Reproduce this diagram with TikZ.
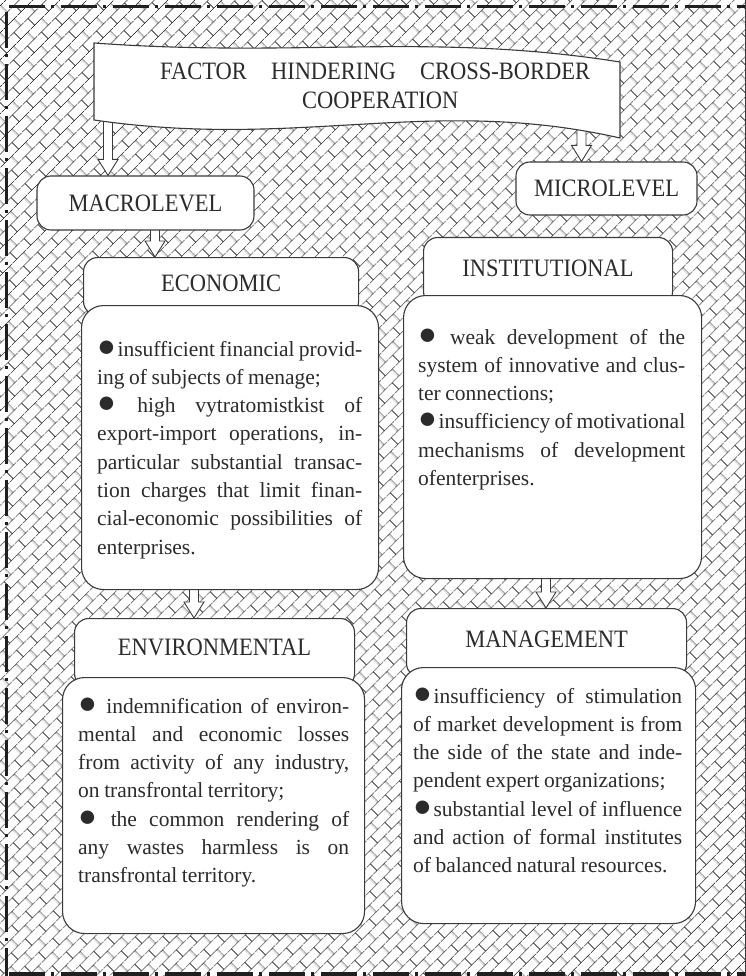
\documentclass[tikz,border=0pt]{standalone}
\usepackage{fontspec}
\setmainfont[WordSpace=0.85]{Liberation Serif}
\newfontfamily\headfont[FakeStretch=0.9]{Liberation Serif}
\usetikzlibrary{patterns.meta,calc}

\definecolor{ink}{HTML}{2B2B2B}
\definecolor{edge}{HTML}{3A3A3A}
\definecolor{hatch}{HTML}{2E2E2E}

\pgfdeclarelayer{backdrop}
\pgfdeclarelayer{links}
\pgfsetlayers{backdrop,links,main}

% diagonal brick hatching
\tikzdeclarepattern{
  name=diagbricks,
  type=uncolored,
  bounding box={(0pt,0pt) and (20pt,20pt)},
  tile size={(20pt,20pt)},
  tile transformation={rotate=45},
  code={
    \pgfsetlinewidth{0.75pt}
    \pgfpathmoveto{\pgfqpoint{0pt}{5pt}}\pgfpathlineto{\pgfqpoint{20pt}{5pt}}
    \pgfpathmoveto{\pgfqpoint{0pt}{15pt}}\pgfpathlineto{\pgfqpoint{20pt}{15pt}}
    \pgfpathmoveto{\pgfqpoint{5pt}{5pt}}\pgfpathlineto{\pgfqpoint{5pt}{15pt}}
    \pgfpathmoveto{\pgfqpoint{15pt}{15pt}}\pgfpathlineto{\pgfqpoint{15pt}{20pt}}
    \pgfpathmoveto{\pgfqpoint{15pt}{0pt}}\pgfpathlineto{\pgfqpoint{15pt}{5pt}}
    \pgfusepath{stroke}
  }
}

% bullet sign of the lists
\newcommand\blt{\scalebox{1.45}{●}\kern1.5pt}

% justified, left-aligned and centred lines of a text block
\newcommand\jline[1]{\makebox[\hsize][s]{#1}\par}
\newcommand\lline[1]{\makebox[\hsize][l]{#1}\par}
\newcommand\cenline[1]{\makebox[\hsize][c]{#1}\par}
\newcommand\textblock[2]{\vtop{\hsize=#1\parindent=0pt\parskip=0pt\baselineskip=28.3pt\lineskiplimit=-40pt\lineskip=0pt #2}}

% hollow block arrow from #1 down to its tip #2
\newcommand\barrow[2]{%
  \draw[flowarrow] ($(#1)+(-4.5pt,0pt)$) -- ($(#2)+(-4.5pt,16pt)$) -- ($(#2)+(-10pt,16pt)$)
    -- (#2) -- ($(#2)+(10pt,16pt)$) -- ($(#2)+(4.5pt,16pt)$) -- ($(#1)+(4.5pt,0pt)$) -- cycle;}

\begin{document}
\begin{tikzpicture}[x=1pt,y=-1pt,
  boxline/.style={draw=edge, line width=1.1pt, fill=white},
  hdrbox/.style={boxline, rounded corners=14pt, inner sep=0pt},
  bodybox/.style={boxline, rounded corners=22pt, inner sep=0pt, anchor=north west},
  htext/.style={text=ink, font=\headfont\fontsize{25}{30}\selectfont, inner sep=0pt},
  btext/.style={text=ink, font=\fontsize{21.5}{28.3}\selectfont, inner sep=0pt, anchor=base west},
  flowarrow/.style={draw=edge, line width=0.9pt, fill=white, line join=miter},
  framestroke/.style={line width=3.2pt, draw=black!88, dash pattern=on 36pt off 6pt on 3pt off 7pt}
]
\useasboundingbox (0,0) rectangle (746,976);

\begin{pgfonlayer}{backdrop}
  \fill[white] (0,0) rectangle (746,976);
  \fill[pattern=diagbricks, pattern color=hatch] (0,0) rectangle (746,976);
\end{pgfonlayer}

% frame
\draw[framestroke] (9,6.7) -- (746,6.7);
\draw[framestroke] (6.7,12) -- (6.7,976);
\draw[framestroke] (9,974) -- (746,974);
\draw[edge, line width=0.8pt] (745.3,0) -- (745.3,976);

% title banner
\draw[boxline] (94,43) .. controls (300,58) and (430,32) .. (620,62) -- (620,138)
  .. controls (430,95) and (300,150) .. (94,120) -- cycle;
\node[htext, anchor=base west] (title) at (160,80)
  {\textblock{430pt}{\jline{FACTOR HINDERING CROSS-BORDER}\cenline{\hspace{10pt}COOPERATION}}};

% levels
\node[hdrbox, htext, minimum width=217pt, minimum height=54pt] (macro) at (145.5,203) {MACROLEVEL};
\node[hdrbox, htext, minimum width=181pt, minimum height=53pt] (micro) at (606.5,188.5) {MICROLEVEL};

% ECONOMIC
\node[hdrbox, anchor=north west, minimum width=275pt, minimum height=58pt] (econh) at (83,257) {};
\node[htext] (econl) at ($(econh.north)+(0pt,-26pt)$) {ECONOMIC};
\node[bodybox, minimum width=297pt, minimum height=284pt] (econb) at (81,305) {};
\node[btext] (econt) at (97,356) {\textblock{265pt}{%
  \jline{\blt insufficient financial provid-}
  \lline{ing of subjects of menage;}
  \jline{\blt{} high vytratomistkist of}
  \jline{export-import operations, in-}
  \jline{particular substantial transac-}
  \jline{tion charges that limit finan-}
  \jline{cial-economic possibilities of}
  \lline{enterprises.}}};

% INSTITUTIONAL
\node[hdrbox, anchor=north west, minimum width=249pt, minimum height=68pt] (insth) at (423,237) {};
\node[htext] (instl) at ($(insth.north)+(0pt,-31pt)$) {INSTITUTIONAL};
\node[bodybox, minimum width=298pt, minimum height=283pt] (instb) at (403,295) {};
\node[btext] (instt) at (418,344) {\textblock{267pt}{%
  \jline{\blt{} weak development of the}
  \jline{system of innovative and clus-}
  \lline{ter connections;}
  \jline{\blt insufficiency of motivational}
  \jline{mechanisms of development}
  \lline{ofenterprises.}}};

% ENVIRONMENTAL
\node[hdrbox, anchor=north west, minimum width=280pt, minimum height=69pt] (envh) at (74,618) {};
\node[htext] (envl) at ($(envh.north)+(0pt,-29pt)$) {ENVIRONMENTAL};
\node[bodybox, minimum width=302pt, minimum height=256pt] (envb) at (62,677) {};
\node[btext] (envt) at (78,713) {\textblock{271pt}{%
  \jline{\blt{} indemnification of environ-}
  \jline{mental and economic losses}
  \jline{from activity of any industry,}
  \lline{on transfrontal territory;}
  \jline{\blt{} the common rendering of}
  \jline{any wastes harmless is on}
  \lline{transfrontal territory.}}};

% MANAGEMENT
\node[hdrbox, anchor=north west, minimum width=280pt, minimum height=69pt] (mgmth) at (406,608) {};
\node[htext] (mgmtl) at ($(mgmth.north)+(0pt,-31pt)$) {MANAGEMENT};
\node[bodybox, minimum width=294pt, minimum height=256pt] (mgmtb) at (401,667) {};
\node[btext] (mgmtt) at (413,703) {\textblock{269pt}{%
  \jline{\blt insufficiency of stimulation}
  \jline{of market development is from}
  \jline{the side of the state and inde-}
  \lline{pendent expert organizations;}
  \jline{\blt substantial level of influence}
  \jline{and action of formal institutes}
  \lline{of balanced natural resources.}}};

% block arrows between the levels
\begin{pgfonlayer}{links}
  \coordinate (a1) at (108,116);
  \coordinate (a2) at (581.5,120);
  \coordinate (a3) at (155,226);
  \coordinate (a4) at (194,585);
  \coordinate (a5) at (546,574);
  \barrow{a1}{a1 |- macro.north}
  \barrow{a2}{a2 |- micro.north}
  \barrow{a3}{a3 |- econh.north}
  \barrow{a4}{a4 |- envh.north}
  \barrow{a5}{a5 |- mgmth.north}
\end{pgfonlayer}
\end{tikzpicture}
\end{document}
